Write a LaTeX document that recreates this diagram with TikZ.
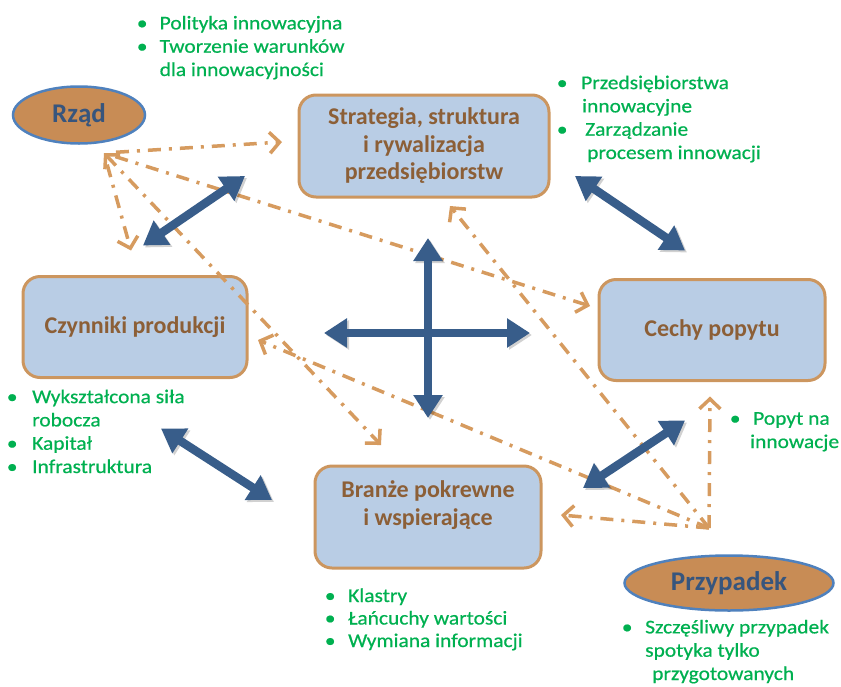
\documentclass[tikz,border=0pt]{standalone}
\usepackage{fontspec}
\setmainfont{Carlito}
\newfontfamily\notefont{Carlito}[FakeStretch=1.1,FakeBold=0.6]
\usetikzlibrary{shapes.geometric,arrows.meta}
\definecolor{boxfill}{RGB}{185,205,229}
\definecolor{boxline}{RGB}{204,150,95}
\definecolor{boxtext}{RGB}{140,95,55}
\definecolor{ellfill}{RGB}{200,140,85}
\definecolor{elledge}{RGB}{79,129,189}
\definecolor{elltext}{RGB}{55,85,125}
\definecolor{arrowblue}{RGB}{56,93,138}
\definecolor{dashorange}{RGB}{214,155,95}
\definecolor{notegreen}{RGB}{0,176,80}
\newcommand\itm[1][18pt]{\makebox[0pt]{\textbullet}\hspace*{#1}}

\begin{document}
\begin{tikzpicture}[x=1pt,y=-1pt,
	factor/.style={draw=boxline, line width=3pt, fill=boxfill, rounded corners=17pt,
		minimum width=226pt, minimum height=102pt, align=center, outer sep=0pt,
		text=boxtext, font=\bfseries\fontsize{24}{27.5}\selectfont},
	outside/.style={ellipse, draw=elledge, line width=2.5pt, fill=ellfill, inner sep=0pt,
		outer sep=0pt, text=elltext, font=\bfseries\fontsize{27}{30}\selectfont},
	note/.style={anchor=base west, align=left, inner sep=0pt, text=notegreen,
		font=\notefont\fontsize{19.5}{23.3}\selectfont},
	link/.style={line width=8.5pt, draw=arrowblue,
		{Triangle[length=23pt,width=28pt]}-{Triangle[length=23pt,width=28pt]},
		preaction={draw=black, opacity=0.18, transform canvas={shift={(2pt,-2pt)}}}},
	infl/.style={line width=3.5pt, draw=dashorange, ->,
		dash pattern=on 13pt off 8pt on 3pt off 8pt},
	>={Straight Barb[length=10pt,width=21pt]}]
\useasboundingbox (0,0) rectangle (841,686);

\path (424,146) node[factor, minimum width=250pt] (strat) {Strategia, struktura\\i rywalizacja\\przedsiębiorstw}
	(135,327) node[factor, minimum width=224pt, minimum height=101pt] (czyn) {Czynniki produkcji}
	(712,330) node[factor, minimum height=101pt] (cechy) {Cechy popytu}
	(428,517) node[factor] (branze) {Branże pokrewne\\i wspierające\\\mbox{}};
\path (79,115) node[outside, minimum width=132pt, minimum height=57pt] (rzad) {Rząd}
	(729,583) node[outside, minimum width=209pt, minimum height=55pt] (przyp) {Przypadek};

\coordinate (rz) at (104,153);
\coordinate (pz) at (709,528);
\coordinate (hub) at (428,333);

\draw[infl, shorten <=12pt] (rz) -- ([shift={(-17,-4)}]strat.west);
\draw[infl, shorten <=12pt] (rz) -- ([shift={(-9,-24)}]cechy.west);
\draw[infl, shorten <=12pt] (rz) -- ([shift={(-4,-26)}]czyn.north);
\draw[infl, <->] (rz) -- ([shift={(-47,-21)}]branze.north);
\draw[infl] (pz) -- ([shift={(-2,16)}]cechy.south);
\draw[infl] (pz) -- ([shift={(26,9)}]strat.south);
\draw[infl] (pz) -- ([shift={(11,13)}]czyn.east);
\draw[infl] (pz) -- ([shift={(20,-2)}]branze.east);

\draw[link] ([shift={(-54,30)}]strat.west) -- ([shift={(8,-31)}]czyn.north);
\draw[link] ([shift={(26,30)}]strat.east) -- ([shift={(-27,-29)}]cechy.north);
\draw[link] ([shift={(26,51)}]czyn.south) -- ([shift={(-43,-17)}]branze.west);
\draw[link] ([shift={(-27,40)}]cechy.south) -- ([shift={(42,-29)}]branze.east);
\draw[link] ([shift={(0,-95)}]hub) -- ([shift={(0,85)}]hub);
\draw[link] ([shift={(-104,0)}]hub) -- ([shift={(102,0)}]hub);

\node[note] (gov) at (142,76) {\itm[17.5pt]Polityka innowacyjna\\\itm[17.5pt]Tworzenie warunków\\\hspace*{17.5pt}dla innowacyjności};
\node[note] (firm) at (562,159) {\itm[19pt]Przedsiębiorstwa\\\hspace*{20pt}innowacyjne\\\itm[23pt]Zarządzanie\\\hspace*{25pt}procesem innowacji};
\node[note] (inputs) at (12,473) {\itm[20pt]Wykształcona siła\\\hspace*{20pt}robocza\\\itm[20pt]Kapitał\\\itm[20pt]Infrastruktura};
\node[note] (demand) at (735,448) {\itm[18pt]Popyt na\\\hspace*{15pt}innowacje};
\node[note, font=\notefont\fontsize{19.5}{22.5}\selectfont] (related) at (330,647) {\itm[18pt]Klastry\\\itm[18pt]Łańcuchy wartości\\\itm[18pt]Wymiana informacji};
\node[note] (luck) at (627,680) {\itm[18pt]Szczęśliwy przypadek\\\hspace*{18pt}spotyka tylko\\\hspace*{25pt}przygotowanych};
\end{tikzpicture}
\end{document}
